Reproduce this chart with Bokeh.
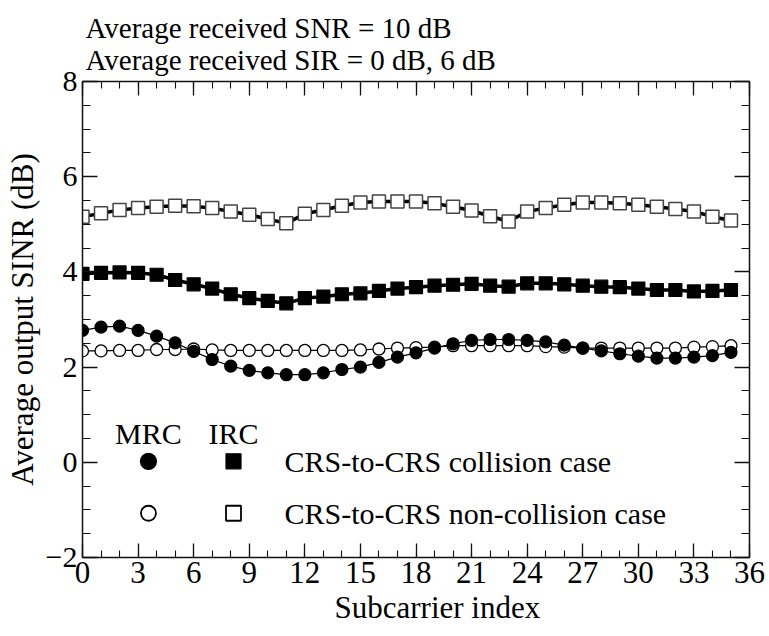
from bokeh.plotting import figure
from bokeh.models import Label, LinearAxis, SingleIntervalTicker, Range1d, Title
from bokeh.embed import file_html
from bokeh.resources import INLINE

# Subcarrier index and average output SINR (dB) for each receiver / case
subcarrier = list(range(36))

mrc_collision = [2.77, 2.84, 2.86, 2.77, 2.65, 2.51, 2.33, 2.16, 2.02, 1.93, 1.88, 1.84,
                 1.84, 1.88, 1.95, 2.00, 2.10, 2.21, 2.30, 2.40, 2.49, 2.56, 2.58, 2.58,
                 2.56, 2.53, 2.46, 2.40, 2.34, 2.28, 2.23, 2.19, 2.19, 2.21, 2.24, 2.31]
mrc_noncollision = [2.34, 2.34, 2.35, 2.35, 2.37, 2.37, 2.38, 2.36, 2.35, 2.35, 2.35, 2.35,
                    2.35, 2.35, 2.35, 2.36, 2.38, 2.40, 2.41, 2.42, 2.45, 2.45, 2.45, 2.45,
                    2.45, 2.43, 2.42, 2.40, 2.40, 2.40, 2.40, 2.40, 2.40, 2.42, 2.43, 2.45]
irc_collision = [3.96, 3.98, 3.99, 3.98, 3.94, 3.83, 3.74, 3.65, 3.53, 3.45, 3.39, 3.34,
                 3.45, 3.48, 3.53, 3.55, 3.60, 3.65, 3.68, 3.71, 3.73, 3.75, 3.71, 3.69,
                 3.76, 3.76, 3.74, 3.71, 3.69, 3.68, 3.65, 3.62, 3.62, 3.59, 3.60, 3.62]
irc_noncollision = [5.16, 5.23, 5.30, 5.34, 5.37, 5.39, 5.38, 5.34, 5.27, 5.20, 5.11, 5.02,
                    5.22, 5.30, 5.39, 5.46, 5.48, 5.48, 5.48, 5.44, 5.37, 5.29, 5.17, 5.06,
                    5.27, 5.34, 5.41, 5.46, 5.46, 5.44, 5.41, 5.37, 5.32, 5.27, 5.16, 5.08]

header_lines = ["Average received SNR = 10 dB", "Average received SIR = 0 dB, 6 dB"]
x_title = "Subcarrier index"
y_title = "Average output SINR (dB)"
legend_columns = ["MRC", "IRC"]
legend_rows = ["CRS-to-CRS collision case", "CRS-to-CRS non-collision case"]

FONT = "Liberation Serif"
INK = "#111111"

p = figure(width=769, height=636,
           x_range=Range1d(0, 36), y_range=Range1d(-2, 8),
           output_backend="svg", toolbar_location=None,
           min_border_left=82, min_border_right=20,
           min_border_top=81, min_border_bottom=79)
p.grid.visible = False
p.outline_line_color = None
p.background_fill_color = "white"
p.border_fill_color = "white"


def style_axis(ax, dim, labels=True):
    ax.ticker = (SingleIntervalTicker(interval=3, num_minor_ticks=3) if dim == "x"
                 else SingleIntervalTicker(interval=2, num_minor_ticks=4))
    ax.axis_line_color = INK
    ax.axis_line_width = 1.5
    ax.major_tick_line_color = INK
    ax.minor_tick_line_color = INK
    ax.major_tick_line_width = 1.3
    ax.minor_tick_line_width = 1.1
    ax.major_tick_out = 0
    ax.minor_tick_out = 0
    ax.major_tick_in = 14 if dim == "x" else 15
    ax.minor_tick_in = 7 if dim == "x" else 8
    ax.major_label_text_font = FONT
    ax.major_label_text_color = "black"
    if not labels:
        # mirrored edge: ticks only, no tick labels drawn
        ax.major_label_text_color = None
        ax.major_label_text_font_size = "1px"
        ax.major_label_standoff = 0


xa = p.xaxis[0]
style_axis(xa, "x")
xa.major_label_text_font_size = "31px"
xa.major_label_standoff = 4

ya = p.yaxis[0]
style_axis(ya, "y")
ya.major_label_text_font_size = "30px"
ya.major_label_standoff = 5
ya.axis_label = y_title
ya.axis_label_text_font = FONT
ya.axis_label_text_font_size = "31px"
ya.axis_label_text_font_style = "normal"
ya.axis_label_text_color = "black"
ya.axis_label_standoff = 3

# x title, left-aligned at a pixel offset so it sits a little right of centre
p.add_layout(Title(text=x_title, align="left", offset=252, standoff=4,
                   text_font=FONT, text_font_size="31px", text_font_style="normal",
                   text_color="black"), "below")

# mirrored axes on the top and right edges, ticks only
top_axis = LinearAxis()
style_axis(top_axis, "x", labels=False)
p.add_layout(top_axis, "above")
right_axis = LinearAxis()
style_axis(right_axis, "y", labels=False)
p.add_layout(right_axis, "right")

# header: two tightly spaced lines above the frame
p.add_layout(Title(text="\n".join(header_lines), align="left", offset=3, standoff=12,
                   text_font=FONT, text_font_size="29px", text_font_style="normal",
                   text_line_height=1.0, text_color="black"), "above")

# IRC curves: thick connecting line with square markers
p.line(subcarrier, irc_noncollision, line_color="black", line_width=3.5)
p.scatter(subcarrier, irc_noncollision, marker="square", size=13,
          fill_color="white", line_color="#444444", line_width=1.5)
p.line(subcarrier, irc_collision, line_color="black", line_width=3.5)
p.scatter(subcarrier, irc_collision, marker="square", size=13,
          fill_color="black", line_color="black", line_width=1.2)

# MRC curves: thin line with circle markers
p.line(subcarrier, mrc_noncollision, line_color="black", line_width=1.2)
p.scatter(subcarrier, mrc_noncollision, marker="circle", size=12,
          fill_color="white", line_color="black", line_width=1.3)
p.line(subcarrier, mrc_collision, line_color="black", line_width=1.2)
p.scatter(subcarrier, mrc_collision, marker="circle", size=12,
          fill_color="black", line_color="black", line_width=1.2)

# hand-built legend: receiver columns and case rows
col_x = [3.56, 8.15]
row_y = [0.02, -1.07]
for cx, name in zip(col_x, legend_columns):
    p.add_layout(Label(x=cx, y=0.61, text=name, text_font=FONT, text_font_size="30px",
                       text_color="black", text_align="center", text_baseline="alphabetic"))
p.scatter([col_x[0]], [row_y[0]], marker="circle", size=16,
          fill_color="black", line_color="black", line_width=1.2)
p.scatter([col_x[1]], [row_y[0]], marker="square", size=15,
          fill_color="black", line_color="black", line_width=1.2)
p.scatter([col_x[0]], [row_y[1]], marker="circle", size=15,
          fill_color="white", line_color="black", line_width=1.8)
p.scatter([col_x[1]], [row_y[1]], marker="square", size=15,
          fill_color="white", line_color="black", line_width=1.8)
for ry, text in zip(row_y, legend_rows):
    p.add_layout(Label(x=10.9, y=ry, text=text, text_font=FONT, text_font_size="30px",
                       text_color="black", text_align="left", text_baseline="middle"))

open("out.html", "w").write(file_html(p, INLINE))
